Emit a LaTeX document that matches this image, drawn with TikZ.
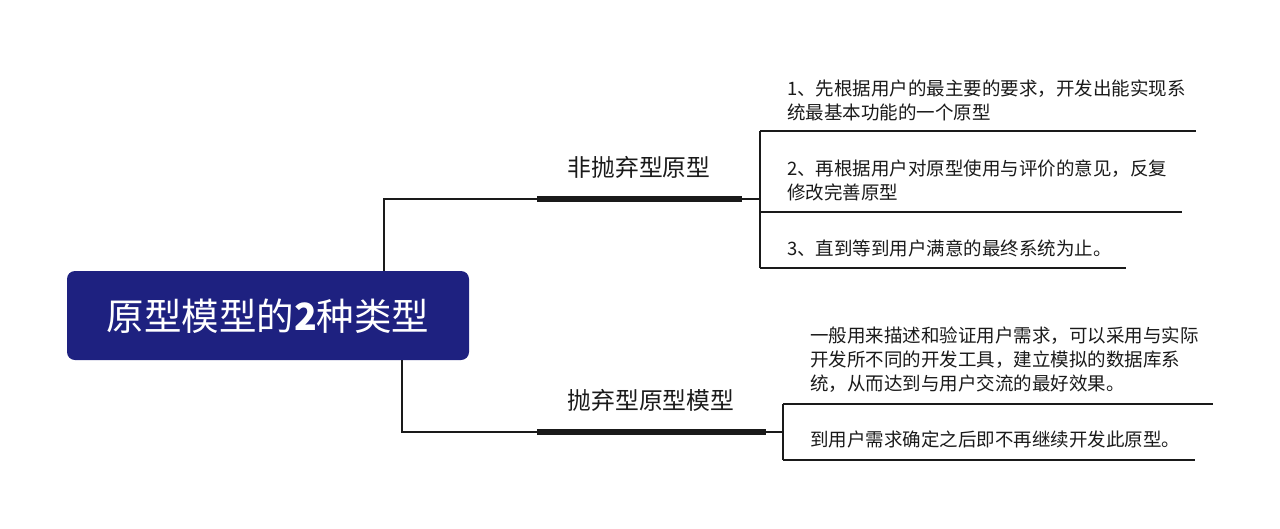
\documentclass[tikz,border=0pt]{standalone}
\usepackage{fontspec}
\setmainfont{Noto Sans CJK SC}
\newfontfamily\cjk{Noto Sans CJK SC}
\definecolor{navy}{HTML}{1E2180}
\definecolor{ink}{HTML}{1A1A1A}
\begin{document}
\begin{tikzpicture}[x=1pt,y=-1pt,
  thin line/.style={draw=ink,line width=1.1pt},
  thick bar/.style={draw=ink,line width=6pt},
  rootbox/.style={fill=navy,rounded corners=8pt,draw=none},
  branchlabel/.style={font=\cjk\fontsize{23.8}{28}\selectfont,text=ink,inner sep=0pt},
  leaftext/.style={font=\cjk\fontsize{18.5}{24}\selectfont,text=ink,inner sep=0pt,align=left,anchor=west},
]
\useasboundingbox (0,0) rectangle (1280,528);
% root
\path[rootbox] (67,271) rectangle (469,360);
\node[font=\cjk\fontsize{37.5}{44}\selectfont,text=white,inner sep=0pt] (root) at (268,316) {原型模型的{\bfseries 2}种类型};
\coordinate (rootTop) at (384,271);
\coordinate (rootBot) at (402,360);
% upper branch
\coordinate (b1s) at (537,199);
\coordinate (b1e) at (742,199);
\coordinate (br1) at (760,199);
\node[branchlabel] (lab1) at (639,167) {非抛弃型原型};
\draw[thin line] (rootTop) |- (b1s);
\draw[thick bar] (b1s) -- (b1e);
\draw[thin line] (b1e) -- (br1);
\coordinate (u1a) at (760,131); \coordinate (u1b) at (1196,131);
\coordinate (u2a) at (760,212); \coordinate (u2b) at (1182,212);
\coordinate (u3a) at (760,268); \coordinate (u3b) at (1126,268);
\draw[thin line] (u1a) -- (u3a);
\draw[thin line] (u1a) -- (u1b);
\draw[thin line] (u2a) -- (u2b);
\draw[thin line] (u3a) -- (u3b);
\node[leaftext] (t1) at (787,100) {1、先根据用户的最主要的要求，开发出能实现系\\统最基本功能的一个原型};
\node[leaftext] (t2) at (787,180) {2、再根据用户对原型使用与评价的意见，反复\\修改完善原型};
\node[leaftext] (t3) at (787,248) {3、直到等到用户满意的最终系统为止。};
% lower branch
\coordinate (b2s) at (537,432);
\coordinate (b2e) at (766,432);
\coordinate (br2) at (783,432);
\node[branchlabel] (lab2) at (651,400) {抛弃型原型模型};
\draw[thin line] (rootBot) |- (b2s);
\draw[thick bar] (b2s) -- (b2e);
\draw[thin line] (b2e) -- (br2);
\coordinate (v1a) at (783,404); \coordinate (v1b) at (1213,404);
\coordinate (v2a) at (783,460); \coordinate (v2b) at (1195,460);
\draw[thin line] (v1a) -- (v2a);
\draw[thin line] (v1a) -- (v1b);
\draw[thin line] (v2a) -- (v2b);
\node[leaftext] (t4) at (810,360) {一般用来描述和验证用户需求，可以采用与实际\\开发所不同的开发工具，建立模拟的数据库系\\统，从而达到与用户交流的最好效果。};
\node[leaftext] (t5) at (810,439) {到用户需求确定之后即不再继续开发此原型。};
\end{tikzpicture}
\end{document}
